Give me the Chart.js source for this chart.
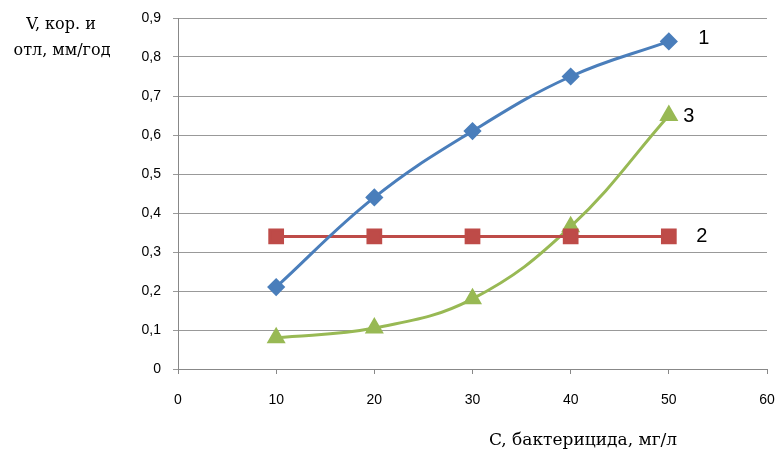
<!DOCTYPE html>
<html>
<head>
<meta charset="utf-8">
<script src="https://cdn.jsdelivr.net/npm/chart.js@4"></script>
<style>
  html, body { margin: 0; padding: 0; background: #fff; }
  #wrap { width: 779px; height: 453px; }
</style>
</head>
<body>
<div id="wrap"><canvas id="myChart" width="779" height="453"></canvas></div>
<script>
// concentration of bactericide, mg/l
var conc = [10, 20, 30, 40, 50];
var curve1 = [0.21, 0.44, 0.61, 0.75, 0.84];
var curve2 = [0.34, 0.34, 0.34, 0.34, 0.34];
var curve3 = [0.08, 0.105, 0.18, 0.365, 0.65];
var curveNames = ['1', '2', '3'];
var yTicks = [0, 0.1, 0.2, 0.3, 0.4, 0.5, 0.6, 0.7, 0.8, 0.9];

function pts(ys) {
    return conc.map(function (c, i) { return { x: c, y: ys[i] }; });
}

// number next to the last point of each curve
var curveLabels = {
    id: 'curveLabels',
    afterDatasetsDraw: function (chart) {
        var ctx = chart.ctx;
        var offs = [[35, -3], [33, 0], [20, 1]];
        ctx.save();
        ctx.font = '20px "Liberation Sans", Arial, sans-serif';
        ctx.fillStyle = '#000';
        ctx.textAlign = 'center';
        ctx.textBaseline = 'middle';
        chart.data.datasets.forEach(function (ds, i) {
            var meta = chart.getDatasetMeta(i);
            var last = meta.data[meta.data.length - 1];
            ctx.fillText(curveNames[i], last.x + offs[i][0], last.y + offs[i][1]);
        });
        ctx.restore();
    }
};

// axis titles
var axisTitles = {
    id: 'axisTitles',
    afterDraw: function (chart) {
        var ctx = chart.ctx;
        ctx.save();
        ctx.fillStyle = '#000';
        ctx.textAlign = 'center';
        ctx.textBaseline = 'middle';
        ctx.font = '16px "DejaVu Serif", serif';
        ctx.fillText('V, кор. и', 61, 25);
        ctx.fillText('отл, мм/год', 62, 51);
        ctx.font = '17px "DejaVu Serif", serif';
        ctx.fillText('C, бактерицида, мг/л', 583, 441);
        ctx.restore();
    }
};

var ctx = document.getElementById('myChart').getContext('2d');
var myChart = new Chart(ctx, {
    type: 'line',
    data: {
        datasets: [{
            data: pts(curve1),
            borderColor: '#4A7EBB',
            backgroundColor: '#4A7EBB',
            borderWidth: 3,
            pointStyle: 'rectRot',
            pointRadius: 7,
            tension: 0.4
        }, {
            data: pts(curve2),
            borderColor: '#BE4B48',
            backgroundColor: '#BE4B48',
            borderWidth: 3,
            pointStyle: 'rect',
            pointRadius: 9,
            tension: 0.4
        }, {
            data: pts(curve3),
            borderColor: '#98B954',
            backgroundColor: '#98B954',
            borderWidth: 3,
            pointStyle: 'triangle',
            pointRadius: 8,
            tension: 0.4
        }]
    },
    options: {
        responsive: false,
        animation: false,
        layout: { padding: { left: 0, right: 11, top: 18, bottom: 0 } },
        plugins: {
            legend: { display: false },
            tooltip: { enabled: false }
        },
        scales: {
            x: {
                type: 'linear',
                min: 0,
                max: 60,
                ticks: {
                    stepSize: 10,
                    padding: 18,
                    color: '#000',
                    font: { family: '"Liberation Sans", Arial, sans-serif', size: 14 }
                },
                grid: { drawOnChartArea: false, color: '#888', tickLength: 5 },
                border: { color: '#888', width: 1 },
                afterFit: function (scale) {
                    scale.height = 84;
                    scale.paddingLeft = 0;
                    scale.paddingRight = 0;
                }
            },
            y: {
                min: 0,
                max: 0.9,
                afterBuildTicks: function (scale) {
                    scale.ticks = yTicks.map(function (v) { return { value: v }; });
                },
                ticks: {
                    padding: 12,
                    color: '#000',
                    font: { family: '"Liberation Sans", Arial, sans-serif', size: 14 },
                    callback: function (v) {
                        return String(Math.round(v * 10) / 10).replace('.', ',');
                    }
                },
                grid: { color: '#999', tickLength: 5 },
                border: { color: '#888', width: 1 },
                afterFit: function (scale) {
                    scale.width = 178;
                    scale.paddingTop = 0;
                    scale.paddingBottom = 0;
                }
            }
        }
    },
    plugins: [curveLabels, axisTitles]
});
</script>
</body>
</html>
